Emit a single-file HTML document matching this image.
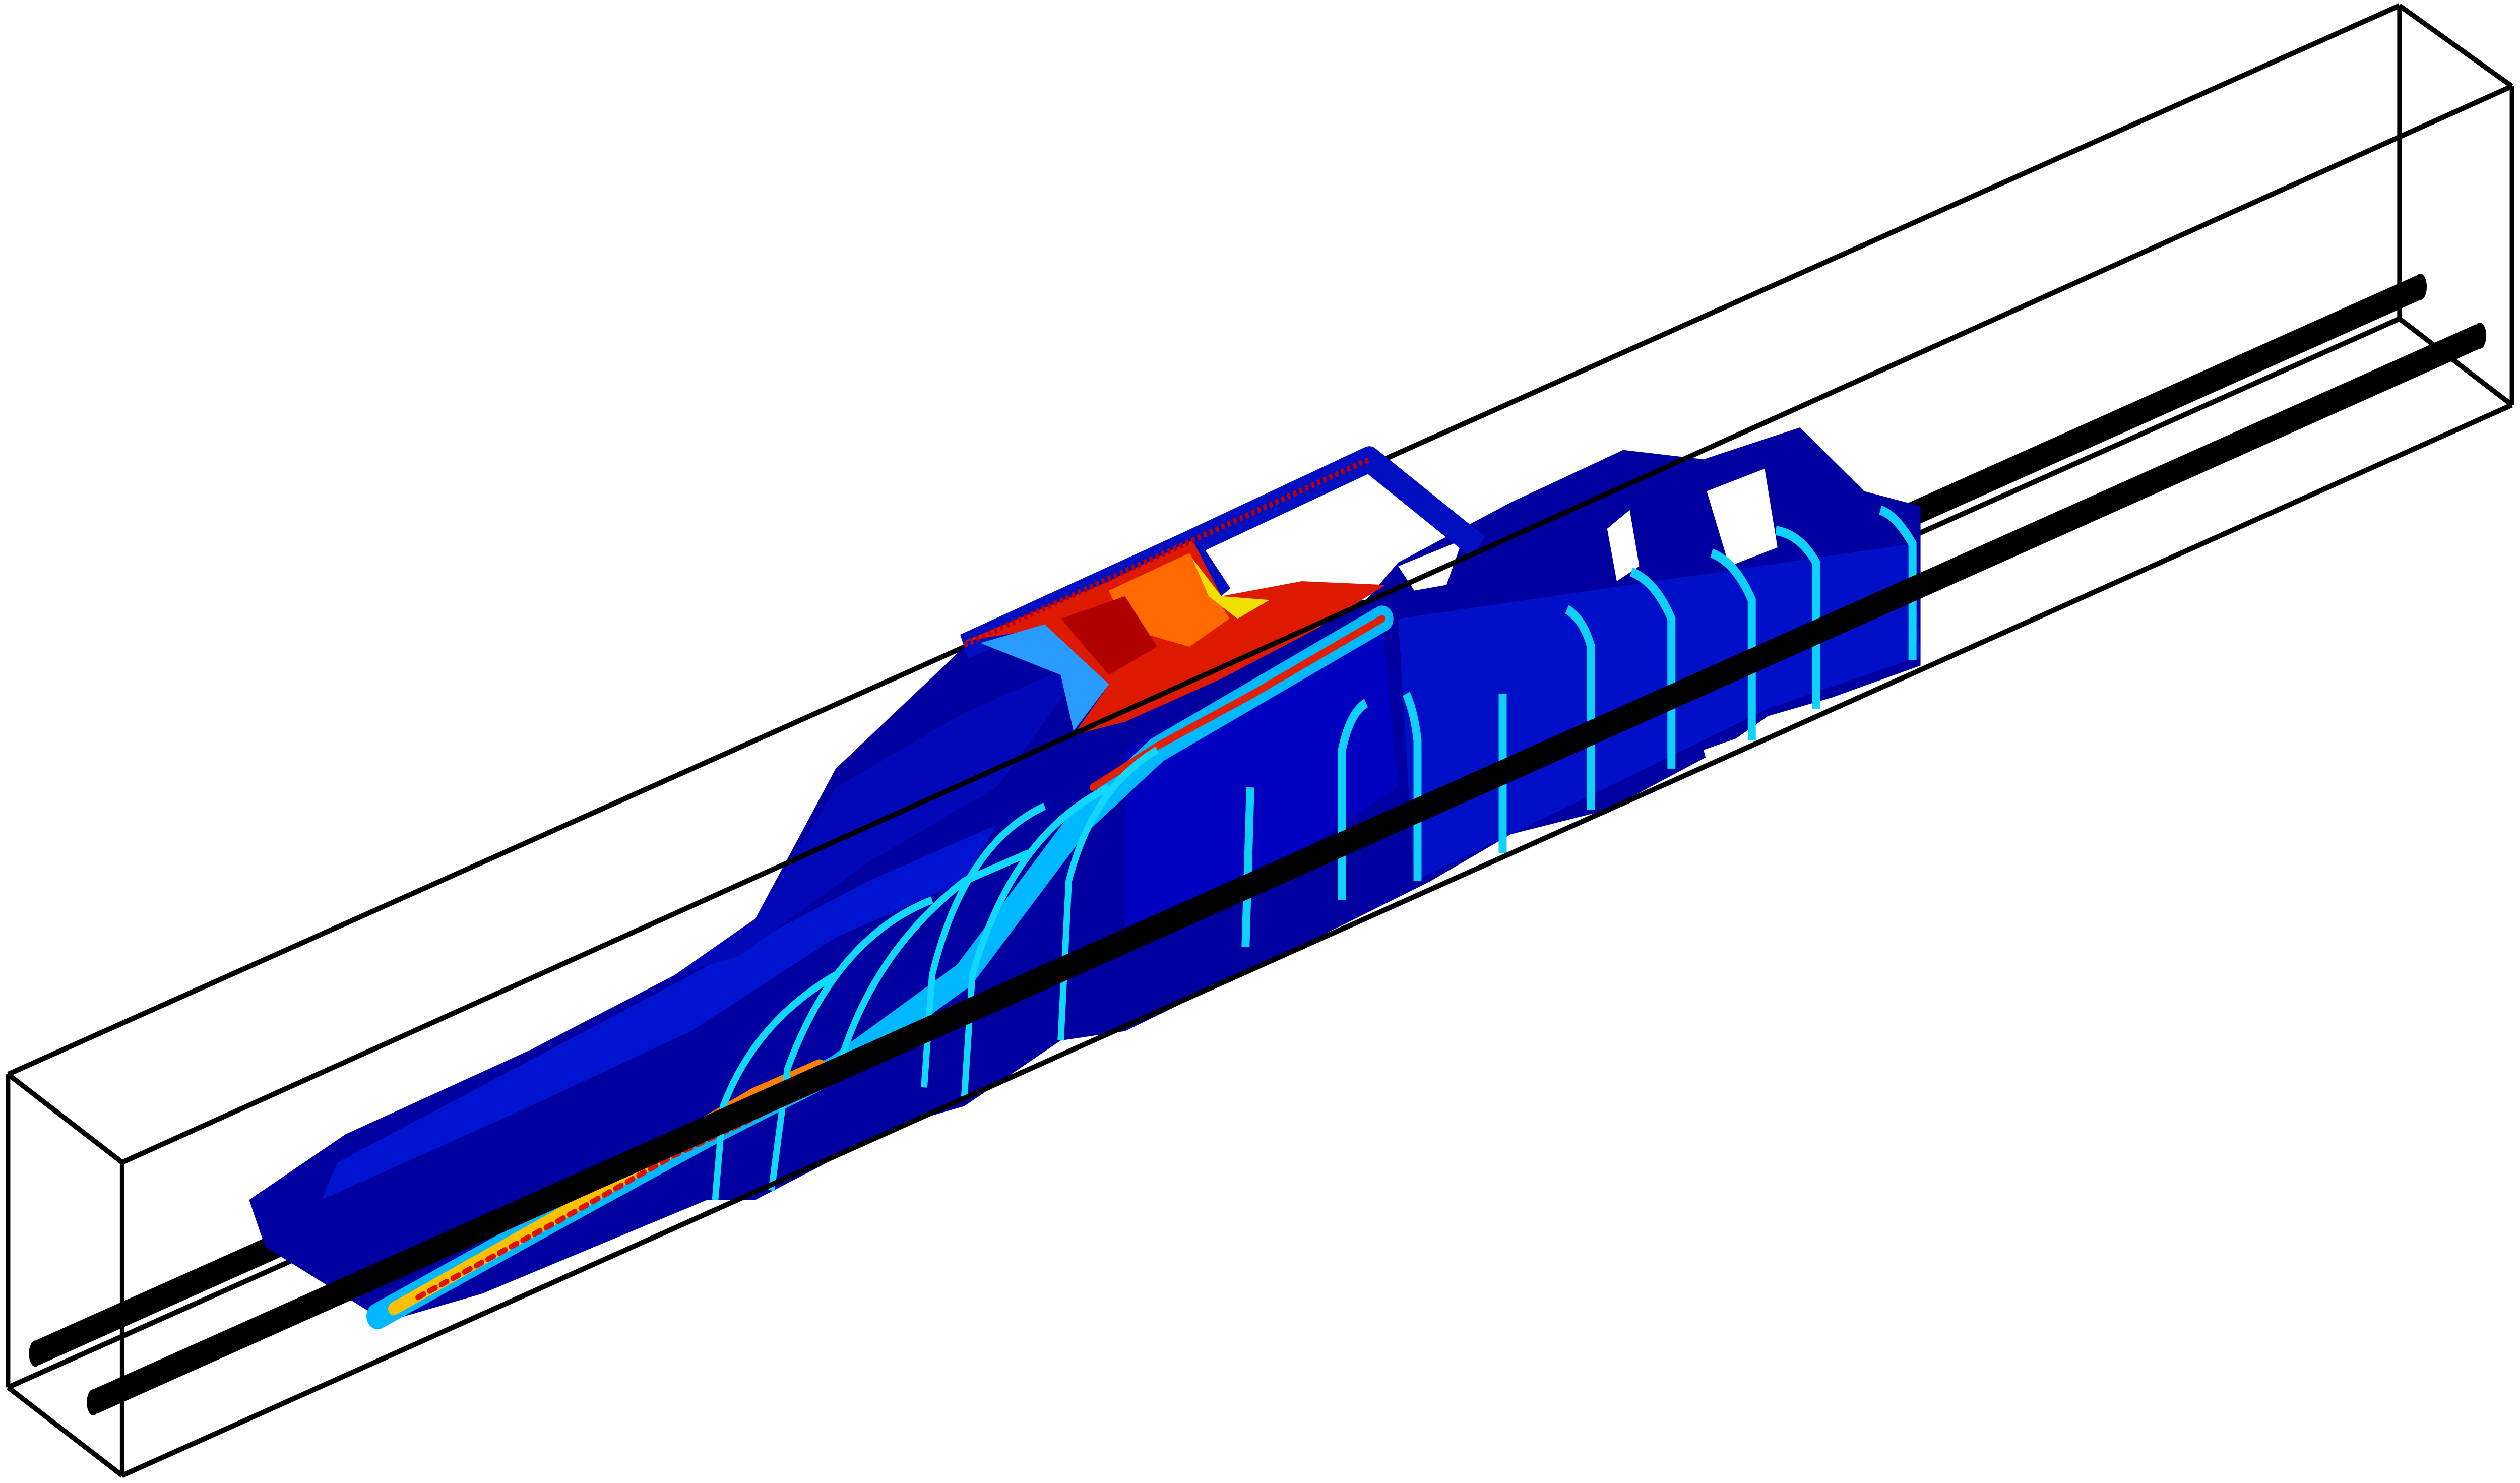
<!DOCTYPE html>
<html><head><meta charset="utf-8"><style>
html,body{margin:0;padding:0;background:#fff;width:100vw;height:100vh;overflow:hidden}
svg{display:block;width:100vw;height:100vh}
</style></head><body>
<svg viewBox="0 0 1568 791" preserveAspectRatio="none" xmlns="http://www.w3.org/2000/svg">
<g stroke="#000" stroke-width="2.8" fill="none">
<line x1="5" y1="573" x2="1493" y2="3"/>
<line x1="5" y1="740" x2="1493" y2="170"/>
<line x1="1493" y1="3" x2="1493" y2="170"/>
<line x1="5" y1="573" x2="5" y2="740"/>
</g>
<g>
<line x1="22" y1="722" x2="1506" y2="153" stroke="#000" stroke-width="13"/>
<ellipse cx="22" cy="722" rx="4" ry="7" fill="#000"/>
<ellipse cx="1506" cy="153" rx="4" ry="7" fill="#000"/>
</g>
<g>
<polygon fill="#0000a0" points="155,640 215,605 330,560 420,520 470,490 520,410 600,345 650,330 740,290 760,320 850,320 870,300 940,268 1010,240 1060,245 1120,228 1160,262 1195,270 1195,355 1140,372 1100,382 1070,400 1000,432 940,445 890,470 820,500 700,550 660,555 600,590 560,600 470,640 440,640 300,690 240,705 165,665"/>
<polygon fill="#0014d0" points="200,640 330,590 430,550 520,500 600,470 620,440 540,470 430,520 320,570 210,620"/>
<polygon fill="#0010c8" points="870,330 1190,290 1195,350 1100,378 1000,420 880,470"/>
<polygon fill="#0008b8" points="420,520 470,490 520,420 600,380 680,350 620,420 540,460 460,510"/>
<polygon fill="#0000c0" points="700,400 860,330 870,420 780,470 700,500"/>
<polygon fill="#fff" points="1062,262 1098,250 1106,292 1076,302"/>
<polygon fill="#fff" points="1000,282 1014,272 1020,302 1006,310"/>
<polygon fill="#fff" points="870,302 910,288 900,312 880,315"/>
<polygon fill="#fff" points="1150,372 1170,366 1175,380 1155,386"/>
<polygon fill="#fff" points="1060,400 1080,394 1085,410 1065,416"/>
</g>
<g fill="none" stroke="#0010c0" stroke-width="14" stroke-linejoin="round">
<polyline points="600,345 740,290 852,245 920,292"/>
<line x1="740" y1="292" x2="760" y2="318"/>
</g>
<g>
<polygon fill="#dd1a00" points="600,342 690,310 742,288 760,318 810,310 862,312 820,335 760,362 700,385 668,392 690,365 650,335"/>
<polygon fill="#ff6a00" points="690,315 740,295 765,330 740,345 700,335"/>
<polygon fill="#f0e000" points="742,298 760,318 790,320 770,330 752,318"/>
<polygon fill="#b00000" points="660,330 700,318 720,345 690,360"/>
<polygon fill="#2a9cff" points="610,343 650,333 690,365 668,390 660,360"/>
<line x1="600" y1="344" x2="852" y2="245" stroke="#c00000" stroke-width="3" stroke-dasharray="2,2"/>
</g>
<g fill="none" stroke-linecap="round">
<path d="M235,702 L340,652 L440,605 L520,570 L600,520 L670,440 L720,400 L860,330" stroke="#00b8ff" stroke-width="14"/>
<path d="M245,698 L340,652 L440,603 L510,572" stroke="#ffc000" stroke-width="7"/>
<path d="M260,692 L350,650 L420,616 L470,596 L510,576" stroke="#e01000" stroke-width="3" stroke-dasharray="4,4"/>
<path d="M440,600 L470,585 L510,570" stroke="#ff8000" stroke-width="10"/>
<path d="M680,420 L720,398 L780,370 L860,330" stroke="#e02000" stroke-width="4"/>
</g>
<g fill="none" stroke="#10d8ff" stroke-width="4">
<path d="M445,640 L450,590 Q470,545 520,520"/>
<path d="M480,635 L490,570 Q520,500 580,480"/>
<path d="M520,575 Q540,510 600,470 L640,455"/>
<path d="M575,580 L580,520 Q600,450 650,430"/>
<path d="M600,585 L605,520 Q630,445 690,420"/>
<path d="M660,555 L665,470 Q680,420 720,400"/>
</g>
<g fill="none" stroke="#10d0ff" stroke-width="5">
<path d="M775,505 L778,420"/>
<path d="M835,480 L835,400 Q840,380 850,375"/>
<path d="M882,470 L882,395 Q880,380 875,370"/>
<path d="M935,455 L935,370"/>
<path d="M990,432 L990,345 Q985,330 975,325"/>
<path d="M1040,410 L1040,330 Q1030,310 1015,305"/>
<path d="M1090,395 L1090,320 Q1080,300 1065,295"/>
<path d="M1130,378 L1130,300 Q1120,285 1105,283"/>
<path d="M1190,352 L1190,290 Q1180,275 1170,272"/>
</g>
<g>
<line x1="58" y1="748" x2="1543" y2="179" stroke="#000" stroke-width="13"/>
<ellipse cx="58" cy="748" rx="4" ry="7" fill="#000"/>
<ellipse cx="1543" cy="179" rx="4" ry="7" fill="#000"/>
</g>
<g stroke="#000" stroke-width="2.8" fill="none">
<line x1="76" y1="620" x2="1563" y2="46"/>
<line x1="76" y1="787" x2="1563" y2="216"/>
<line x1="76" y1="620" x2="76" y2="787"/>
<line x1="1563" y1="46" x2="1563" y2="216"/>
<line x1="5" y1="573" x2="76" y2="620"/>
<line x1="5" y1="740" x2="76" y2="787"/>
<line x1="1493" y1="3" x2="1563" y2="46"/>
<line x1="1493" y1="170" x2="1563" y2="216"/>
</g>
</svg>
</body></html>
